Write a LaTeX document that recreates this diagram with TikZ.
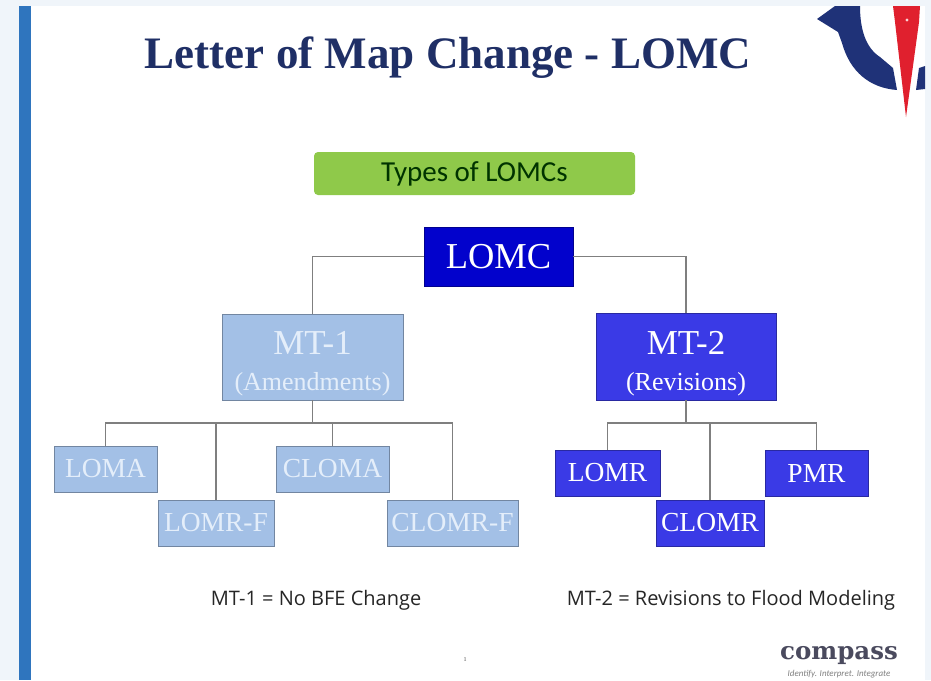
\documentclass[tikz,border=0pt]{standalone}
\usepackage{fontspec}
\setmainfont{Liberation Serif}
\newfontfamily\calib{Carlito}
\newfontfamily\capfont{Open Sans}
\newfontfamily\logofont{DejaVu Serif}
\definecolor{paleedge}{HTML}{F0F5FA}
\definecolor{sidebar}{HTML}{2F75BE}
\definecolor{titleblue}{HTML}{1F2F66}
\definecolor{lomcblue}{HTML}{0202CC}
\definecolor{lightbox}{HTML}{A3C0E6}
\definecolor{vividbox}{HTML}{3A3AE6}
\definecolor{greenbox}{HTML}{8FC94A}
\definecolor{linegrey}{HTML}{7F7F7F}
\definecolor{navy}{HTML}{1F3278}
\definecolor{logored}{HTML}{E0202E}
\definecolor{lighttext}{HTML}{E4EEFA}
\definecolor{logogrey}{HTML}{4A4A5E}
\tikzset{
  x=1pt,y=-1pt,
  box/.style={draw=#1!70!black,line width=0.9pt,fill=#1,text=white,align=center,inner sep=0pt,font=\fontsize{27.5}{29}\selectfont},
  lightnode/.style={box=lightbox,text=lighttext},
  vividnode/.style={box=vividbox},
  bigbox/.style={font=\fontsize{26}{36}\selectfont},
  conn/.style={draw=linegrey,line width=1.1pt},
  caption/.style={font=\capfont\fontsize{20}{22}\selectfont,text=black!85,inner sep=0pt},
}
\begin{document}
\begin{tikzpicture}
\useasboundingbox (0,0) rectangle (931,680);
\fill[paleedge] (0,0) rectangle (931,680);
\fill[white] (19,6) rectangle (925,680);
\fill[sidebar] (19,6) rectangle (31,680);
% logo
\fill[navy] (817,19) -- (835,6) -- (860,6) .. controls (860,30) and (866,48) .. (880,57) -- (893,68) -- (897,90) .. controls (870,88) and (850,72) .. (842,43) -- (838,32) -- cycle;
\fill[navy] (925,66) -- (919,68) -- (916,90) -- (925,89) -- cycle;
\fill[logored] (893,6) -- (920,6) -- (919,22) -- (906,117) -- (895,22) -- cycle;
\fill[white!80!logored] (907,20) circle (1.6);
% title
\node[font=\bfseries\fontsize{45}{50}\selectfont,text=titleblue,inner sep=0pt] (title) at (448,58) {Letter of Map Change - LOMC};
\node[fill=greenbox,rounded corners=4pt,minimum width=321pt,minimum height=43pt,inner sep=0pt,font=\calib\fontsize{29}{32}\selectfont,text=black!80!green] (types) at (474.5,173.5) {\raisebox{-4pt}{Types of LOMCs}};
% nodes
\node[box=lomcblue,minimum width=149pt,minimum height=59pt,font=\fontsize{36.5}{38}\selectfont] (lomc) at (498.5,256.5) {LOMC};
\node[lightnode,bigbox,minimum width=181pt,minimum height=86pt] (mt1) at (312.5,357) {\rule{0pt}{37pt}{\fontsize{35}{38}\selectfont MT-1}\\(Amendments)};
\node[vividnode,bigbox,minimum width=180pt,minimum height=87pt] (mt2) at (686,356.5) {\rule{0pt}{37pt}{\fontsize{35}{38}\selectfont MT-2}\\(Revisions)};
\node[lightnode,minimum width=103pt,minimum height=46pt] (loma) at (105.5,469) {LOMA};
\node[lightnode,minimum width=116pt,minimum height=46pt] (lomrf) at (216,523) {LOMR-F};
\node[lightnode,minimum width=113pt,minimum height=46pt] (cloma) at (332.5,469) {CLOMA};
\node[lightnode,minimum width=131pt,minimum height=46pt] (clomrf) at (452.5,523) {CLOMR-F};
\node[vividnode,minimum width=105pt,minimum height=46pt] (lomr) at (607.5,473) {LOMR};
\node[vividnode,minimum width=108pt,minimum height=46pt] (clomr) at (710,523) {CLOMR};
\node[vividnode,minimum width=103pt,minimum height=46pt] (pmr) at (816.5,473) {PMR};
% connectors
\coordinate (busa) at (312.5,423);
\coordinate (busb) at (686,423);
\draw[conn] (lomc.west) -| (mt1.north);
\draw[conn] (lomc.east) -| (mt2.north);
\draw[conn] (mt1.south) -- (busa);
\draw[conn] (busa) -| (loma.north);
\draw[conn] (busa) -| (lomrf.north);
\draw[conn] (busa) -| (cloma.north);
\draw[conn] (busa) -| (clomrf.north);
\draw[conn] (mt2.south) -- (busb);
\draw[conn] (busb) -| (lomr.north);
\draw[conn] (busb) -| (clomr.north);
\draw[conn] (busb) -| (pmr.north);
% captions
\node[caption] (capa) at (316,600) {MT-1 = No BFE Change};
\node[caption] (capb) at (731,600) {MT-2 = Revisions to Flood Modeling};
\node[inner sep=0pt,font=\fontsize{6}{7}\selectfont,text=black!70] (pageno) at (465,660) {1};
\node[inner sep=0pt,font=\logofont\bfseries\fontsize{24.5}{27}\selectfont,text=logogrey] (logo) at (839,656) {compass};
\node[inner sep=0pt,font=\calib\itshape\fontsize{9}{10}\selectfont,text=black!50] (tag) at (839,674) {Identify. Interpret. Integrate};
\end{tikzpicture}
\end{document}
